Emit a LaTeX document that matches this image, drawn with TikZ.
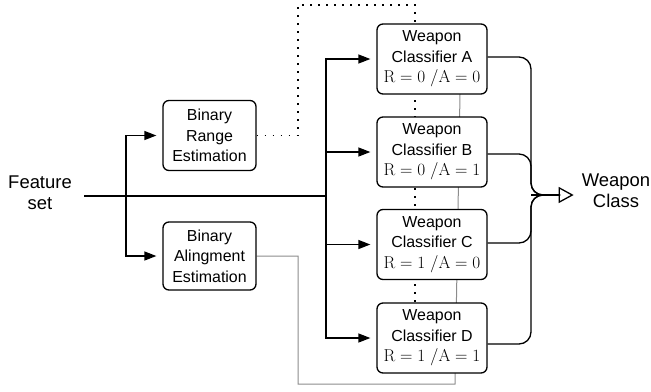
\documentclass[tikz,border=0pt]{standalone}
\usepackage[no-math]{fontspec}
\setmainfont{Liberation Sans}
\usetikzlibrary{arrows.meta,backgrounds}

\tikzset{
  blk/.style={draw, line width=1.3bp, rounded corners=6bp, fill=white,
    align=center, inner sep=0pt, font=\fontsize{16}{20.5}\selectfont},
  est/.style={blk, minimum width=93bp, minimum height=70bp},
  wcls/.style={blk, minimum width=110bp, minimum height=70bp},
  lbl/.style={align=center, inner sep=2bp, font=\fontsize{18.5}{21}\selectfont},
  conn/.style={line width=1.3bp},
  arr/.style={conn, -{Triangle[length=12bp,width=9bp]}, shorten >=6bp},
  dots/.style={line width=1.3bp, dash pattern=on 1.6bp off 6.4bp},
  grayline/.style={line width=1bp, draw=black!45},
  merge/.style={conn, rounded corners=12bp},
}

\newcommand{\rastate}[2]{{\fontsize{16.5}{20}\selectfont$\mathrm{R}=#1\;/\mathrm{A}=#2$}}

\begin{document}
\begin{tikzpicture}[x=1bp, y=-1bp]
  \useasboundingbox (0,0) rectangle (651,391);

  % inputs and outputs
  \node[lbl] (feat) at (40,193) {Feature\\set};
  \node[lbl] (out) at (616,191) {Weapon\\Class};

  % estimators
  \node[est] (range) at (209.5,135.5) {Binary\\Range\\Estimation};
  \node[est, minimum height=68bp] (align) at (209.5,256) {Binary\\Alingment\\Estimation};

  % classifiers
  \node[wcls] (wa) at (432,59)  {Weapon\\Classifier A\\\rastate{0}{0}};
  \node[wcls] (wb) at (432,152) {Weapon\\Classifier B\\\rastate{0}{1}};
  \node[wcls] (wc) at (432,244.5) {Weapon\\Classifier C\\\rastate{1}{0}};
  \node[wcls] (wd) at (432,338) {Weapon\\Classifier D\\\rastate{1}{1}};

  % junction points
  \coordinate (fin) at (84,196);
  \coordinate (lb) at (126,196);
  \coordinate (rb) at (326,196);
  \coordinate (mg) at (531,195);
  \coordinate (me) at (560,195);

  % estimator outputs routed behind the classifiers
  \begin{scope}[on background layer]
    \draw[dots] (range.east) -- (298,135.5) -- (298,5) -- (415,5) -- (415,338);
    \draw[grayline] (align.east) -- (298,256) -- (298,384) -- (455,384) -- (460,94);
  \end{scope}

  % feature distribution
  \draw[conn] (fin) -- (rb);
  \draw[arr] (lb) |- (range.west);
  \draw[arr] (lb) |- (align.west);
  \draw[arr] (rb) |- (wa.west);
  \draw[arr] (rb) |- (wb.west);
  \draw[arr] (rb) |- (wc.west);
  \draw[arr] (rb) |- (wd.west);

  % classifier outputs merged into one
  \draw[merge] (wa.east |- 0,57) -- (mg |- 0,57) -- (mg) -- (me);
  \draw[merge] (wb.east |- 0,154) -- (mg |- 0,154) -- (mg) -- (me);
  \draw[merge] (wc.east |- 0,243) -- (mg |- 0,243) -- (mg) -- (me);
  \draw[merge] (wd.east |- 0,344) -- (mg |- 0,344) -- (mg) -- (me);
  \draw[conn, -{Triangle[open,length=15bp,width=16bp,line width=1.3bp]}, shorten >=6bp]
    (mg) -- (out.west |- mg);
\end{tikzpicture}
\end{document}
